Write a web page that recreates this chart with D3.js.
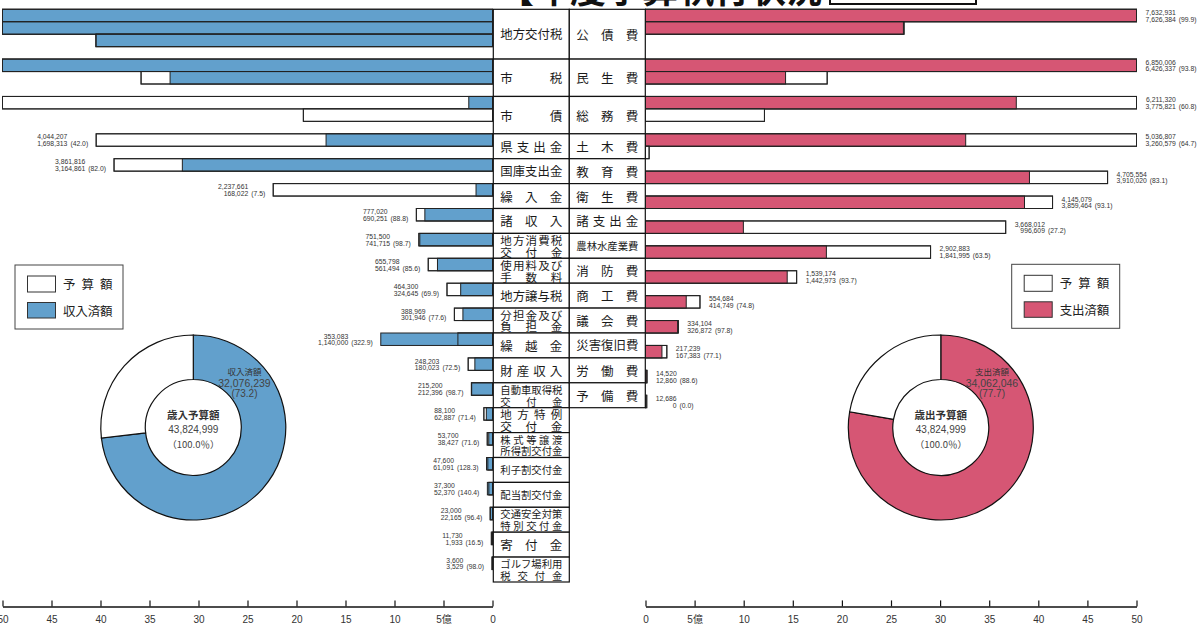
<!DOCTYPE html>
<html>
<head>
<meta charset="utf-8">
<script src="https://cdn.jsdelivr.net/npm/d3@7"></script>
<style>
body { margin: 0; background: #fff; }
svg text { font-family: "Liberation Sans", Arial, "Noto Sans CJK JP", sans-serif; }
svg text.jp { font-family: "Noto Sans CJK JP", sans-serif; }
</style>
</head>
<body>
<div id="chart"></div>
<script>
// 単位：千円
var rev_names = [
    "地方交付税", "市税", "市債", "県支出金", "国庫支出金", "繰入金", "諸収入",
    "地方消費税\n交付金", "使用料及び\n手数料", "地方譲与税", "分担金及び\n負担金",
    "繰越金", "財産収入", "自動車取得税\n交付金", "地方特例\n交付金",
    "株式等譲渡\n所得割交付金", "利子割交付金", "配当割交付金",
    "交通安全対策\n特別交付金", "寄付金", "ゴルフ場利用\n税交付金"
];
var rev_budget = [
    14046000, 8586000, 6930000, 4044207, 3861816, 2237661, 777020,
    751500, 655798, 464300, 388969,
    353083, 248203, 215200, 88100,
    53700, 47600, 37300,
    23000, 11730, 3600
];
var rev_done = [
    14046000, 8290000, 242000, 1698313, 3164861, 168022, 690251,
    741715, 561494, 324645, 301946,
    1140000, 180023, 212396, 62887,
    38427, 61091, 52370,
    22165, 1933, 3529
];

var exp_names = [
    "公債費", "民生費", "総務費", "土木費", "教育費", "衛生費", "諸支出金",
    "農林水産業費", "消防費", "商工費", "議会費", "災害復旧費", "労働費", "予備費"
];
var exp_budget = [
    7632931, 6850006, 6211320, 5036807, 4705554, 4145079, 3668012,
    2902883, 1539174, 554684, 334104, 217239, 14520, 12686
];
var exp_done = [
    7626384, 6426337, 3775821, 3260579, 3910020, 3859464, 996609,
    1841995, 1442973, 414749, 326872, 167383, 12860, 0
];

var total_budget = 43824999;
var rev_total_done = 32076239;
var exp_total_done = 34062046;

var axis_ticks = [0, 5, 10, 15, 20, 25, 30, 35, 40, 45, 50];

var OKU = 100000;    // 千円 -> 億円
var LINE_MAX = 50;   // 1段に描ける上限（億円）
var unit = 12.45;    // 棒1段の高さ
var top0 = 9.3;

var blue = "#62a0cc";
var pink = "#d65674";

var width = 1202, height = 627;
var fmt = d3.format(",");

var svg = d3.select('#chart')
            .append('svg')
            .attr('width', width)
            .attr('height', height);

var xL = d3.scaleLinear().domain([0, 50]).range([492.5, 2.5]);
var xR = d3.scaleLinear().domain([0, 50]).range([645.5, 1136.5]);

function nLines(b, d){
    return Math.max(1, Math.ceil(Math.max(b, d) / OKU / LINE_MAX));
}

// 表の行位置（歳入側の段数で決まる）
var gridTop = [];
var yy = top0;
rev_budget.forEach(function(b, i){
    gridTop.push(yy);
    yy += unit * (nLines(b, rev_done[i]) + 1);
});
gridTop.push(yy);

// 歳出側の棒の位置：表の行に合わせるが、前の棒があふれた分だけ下げる
var expTop = [];
var minNext = 0;
exp_budget.forEach(function(b, i){
    var t = Math.max(gridTop[i], minNext);
    expTop.push(t);
    minNext = t + unit * (nLines(b, exp_done[i]) + 1);
});

// title (top is cut off in the original)
svg.append('text')
    .attr('class', 'jp')
    .attr('x', 822).attr('y', 3)
    .attr('text-anchor', 'end')
    .attr('font-size', 36)
    .attr('font-weight', 'bold')
    .attr('fill', '#111')
    .text('【年度予算執行状況');
svg.append('rect')
    .attr('x', 830).attr('y', -20).attr('width', 146).attr('height', 24)
    .attr('fill', 'none').attr('stroke', '#111').attr('stroke-width', 2);

function segRect(g, x, len, y0, fill){
    var a = x(0), b = x(len);
    g.append('rect')
        .attr('x', Math.min(a, b))
        .attr('y', y0)
        .attr('width', Math.abs(b - a))
        .attr('height', unit)
        .attr('fill', fill)
        .attr('stroke', '#222')
        .attr('stroke-width', 1);
}

function drawBars(budget, done, tops, x, color){
    var g = svg.append('g');
    budget.forEach(function(b, i){
        var bv = b / OKU, dv = done[i] / OKU;
        var n = nLines(b, done[i]);
        for(var k = 0; k < n; k++){
            var bl = Math.max(0, Math.min(LINE_MAX, bv - LINE_MAX * k));
            var dl = Math.max(0, Math.min(LINE_MAX, dv - LINE_MAX * k));
            var y0 = tops[i] + k * unit;
            if(bl > 0) segRect(g, x, bl, y0, '#fff');
            if(dl > 0) segRect(g, x, dl, y0, color);
            if(bl > 0) segRect(g, x, bl, y0, 'none');   // 予算の枠を上に重ねる
        }
    });
}

function valueLabels(budget, done, tops, x, isLeft){
    var g = svg.append('g').attr('font-size', 6.8).attr('fill', '#333');
    budget.forEach(function(b, i){
        var edge = x(Math.min(LINE_MAX, Math.max(b, done[i]) / OKU));
        var pct = (done[i] / b * 100).toFixed(1);
        var t1 = g.append('text').text(fmt(b));
        var t2 = g.append('text').text(fmt(done[i]));
        var t3 = g.append('text').text('(' + pct + ')');
        var w1 = t1.node().getComputedTextLength();
        var w2 = t2.node().getComputedTextLength();
        var w3 = t3.node().getComputedTextLength();
        var numX = isLeft ? edge - 8 - w3 - 3 : edge + 9 + Math.max(w1, w2);
        t1.attr('x', numX).attr('y', tops[i] + 5.6).attr('text-anchor', 'end');
        t2.attr('x', numX).attr('y', tops[i] + 12.3).attr('text-anchor', 'end');
        t3.attr('x', numX + 3).attr('y', tops[i] + 12.3);
    });
}

drawBars(rev_budget, rev_done, gridTop, xL, blue);
drawBars(exp_budget, exp_done, expTop, xR, pink);
valueLabels(rev_budget, rev_done, gridTop, xL, true);
valueLabels(exp_budget, exp_done, expTop, xR, false);

// 均等割付の文字
function justify(g, str, x0, w, cy, fs){
    var chars = Array.from(str);
    var n = chars.length;
    chars.forEach(function(c, i){
        var cx = (n === 1) ? x0 + w / 2 : x0 + fs / 2 + i * (w - fs) / (n - 1);
        g.append('text')
            .attr('class', 'jp')
            .attr('x', cx).attr('y', cy)
            .attr('text-anchor', 'middle')
            .attr('dominant-baseline', 'central')
            .attr('font-size', fs)
            .text(c);
    });
}

// 中央の項目名の表
var colW = 76;
var colL = 493.3, colR = 569.3;
var table = svg.append('g').attr('fill', '#1a1a1a');

function labelCell(name, x0, i){
    var y0 = gridTop[i], h = gridTop[i + 1] - gridTop[i];
    table.append('rect')
        .attr('x', x0).attr('y', y0).attr('width', colW).attr('height', h)
        .attr('fill', '#fff').attr('stroke', '#111').attr('stroke-width', 1.2);
    var lines = name.split('\n');
    var maxChars = d3.max(lines, function(s){ return Array.from(s).length; });
    var fs = Math.min(lines.length > 1 ? 11.5 : 12.5, 62 / maxChars);
    var cy = y0 + h / 2;
    lines.forEach(function(s, j){
        var ly = cy + (j - (lines.length - 1) / 2) * 11.8;
        justify(table, s, x0 + 7, 62, ly, fs);
    });
}
rev_names.forEach(function(n, i){ labelCell(n, colL, i); });
exp_names.forEach(function(n, i){ labelCell(n, colR, i); });

// axes
var axisY = 606.4;
function fmtTick(d){ return d === 5 ? '5億' : d; }
var axL = svg.append('g')
    .attr('transform', 'translate(0,' + axisY + ')')
    .call(d3.axisBottom(xL).tickValues(axis_ticks).tickFormat(fmtTick)
        .tickSizeInner(-6).tickSizeOuter(0).tickPadding(10));
var axR = svg.append('g')
    .attr('transform', 'translate(0,' + axisY + ')')
    .call(d3.axisBottom(xR).tickValues(axis_ticks).tickFormat(fmtTick)
        .tickSizeInner(-6).tickSizeOuter(0).tickPadding(10));
[axL, axR].forEach(function(a){
    a.select('.domain').attr('stroke', '#111').attr('stroke-width', 1.5);
    a.selectAll('.tick line').attr('stroke', '#111').attr('stroke-width', 1.2);
    a.selectAll('.tick text').attr('font-size', 10).attr('fill', '#333')
        .style('font-family', '"Liberation Sans", Arial, "Noto Sans CJK JP", sans-serif');
});

// 凡例
function legend(x0, y0, color, doneName){
    var g = svg.append('g');
    g.append('rect').attr('x', x0).attr('y', y0).attr('width', 108).attr('height', 64)
        .attr('fill', '#fff').attr('stroke', '#444').attr('stroke-width', 1);
    g.append('rect').attr('x', x0 + 12.5).attr('y', y0 + 11).attr('width', 28).attr('height', 16)
        .attr('fill', '#fff').attr('stroke', '#333').attr('stroke-width', 1);
    g.append('rect').attr('x', x0 + 12.5).attr('y', y0 + 37.5).attr('width', 28).attr('height', 15.5)
        .attr('fill', color).attr('stroke', '#333').attr('stroke-width', 1);
    var tg = g.append('g').attr('fill', '#222');
    justify(tg, '予算額', x0 + 48, 49.5, y0 + 18.5, 12.5);
    justify(tg, doneName, x0 + 48, 49.5, y0 + 45.5, 12.5);
}
legend(15, 265, blue, '収入済額');
legend(1011.7, 264.3, pink, '支出済額');

// ドーナツ
function donut(cx, cy, done, color, centerTitle, doneTitle){
    var g = svg.append('g').attr('transform', 'translate(' + cx + ',' + cy + ')');
    var pie = d3.pie().sort(null).value(function(d){ return d.v; });
    var arcs = pie([{v: done, c: color}, {v: total_budget - done, c: '#fff'}]);
    var arc = d3.arc().innerRadius(48).outerRadius(92.5);
    g.selectAll('path')
        .data(arcs)
        .enter()
        .append('path')
        .attr('d', arc)
        .attr('fill', function(d){ return d.data.c; })
        .attr('stroke', '#111')
        .attr('stroke-width', 1.2);

    g.append('text').attr('class', 'jp').attr('y', -13).attr('text-anchor', 'middle')
        .attr('dominant-baseline', 'central').attr('font-size', 10.5).attr('fill', '#333')
        .attr('font-weight', 'bold').text(centerTitle);
    g.append('text').attr('y', 1.5).attr('text-anchor', 'middle')
        .attr('dominant-baseline', 'central').attr('font-size', 10).attr('fill', '#444')
        .text(fmt(total_budget));
    g.append('text').attr('class', 'jp').attr('y', 16).attr('text-anchor', 'middle')
        .attr('dominant-baseline', 'central').attr('font-size', 9.5).attr('fill', '#444')
        .text('（100.0％）');

    // 済額のラベル（円弧の書き出し付近）
    var a = 43 * Math.PI / 180, r = 75;
    var lx = r * Math.sin(a), ly = -r * Math.cos(a);
    g.append('text').attr('class', 'jp').attr('x', lx).attr('y', ly - 1.5).attr('text-anchor', 'middle')
        .attr('dominant-baseline', 'central').attr('font-size', 8.5).attr('fill', '#333')
        .text(doneTitle);
    g.append('text').attr('x', lx).attr('y', ly + 10).attr('text-anchor', 'middle')
        .attr('dominant-baseline', 'central').attr('font-size', 10.5).attr('fill', '#444')
        .text(fmt(done));
    g.append('text').attr('x', lx).attr('y', ly + 21).attr('text-anchor', 'middle')
        .attr('dominant-baseline', 'central').attr('font-size', 10).attr('fill', '#444')
        .text('(' + (done / total_budget * 100).toFixed(1) + ')');
}
donut(193.3, 427.5, rev_total_done, blue, '歳入予算額', '収入済額');
donut(940.8, 427.5, exp_total_done, pink, '歳出予算額', '支出済額');
</script>
</body>
</html>
